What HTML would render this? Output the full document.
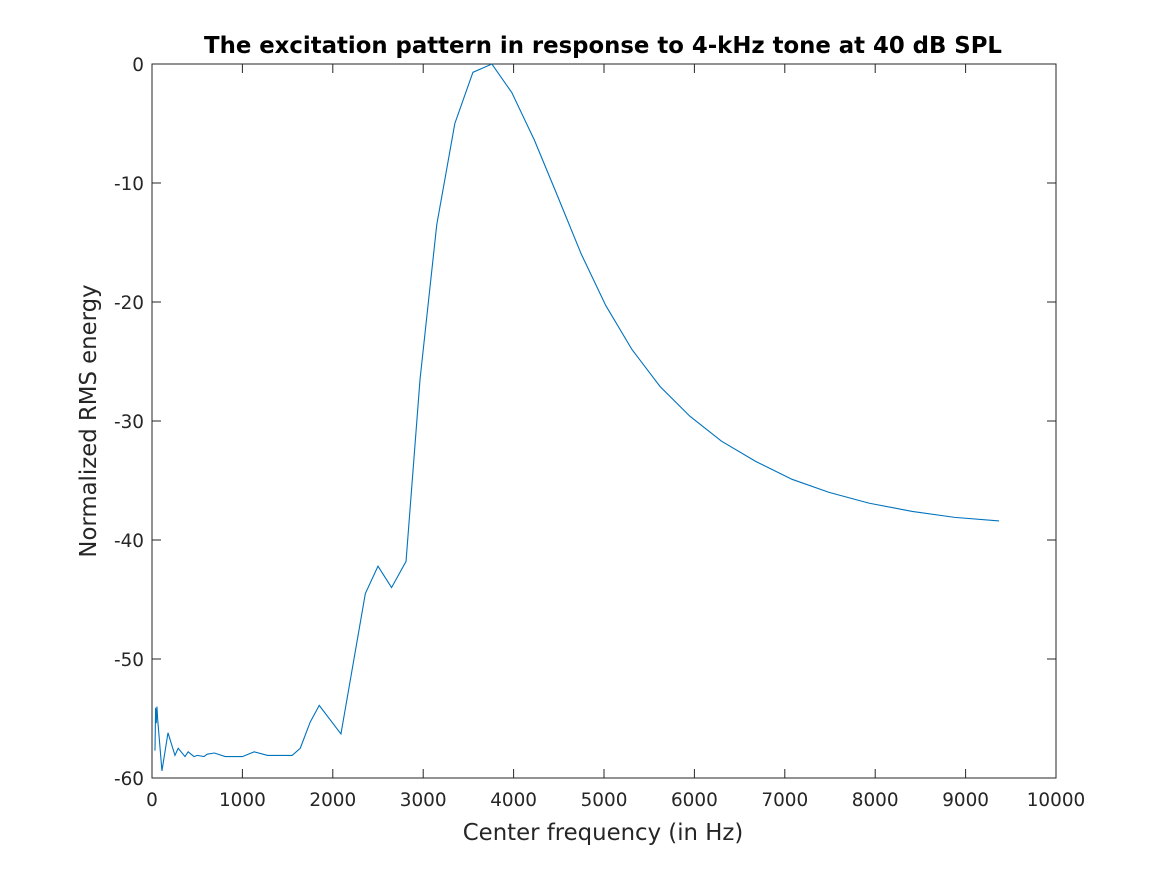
<!DOCTYPE html>
<html><head><meta charset="utf-8"><style>
body{margin:0;background:#fff;}
svg text{font-family:"DejaVu Sans","Liberation Sans",sans-serif;fill:#262626;}
</style></head><body>
<svg id="chart" width="1167" height="875">
<rect width="1167" height="875" fill="#fff"/>
<g id="axes"></g>
<polyline id="series" fill="none" stroke="#0072bd" stroke-width="1.1"/>
<text x="603" y="53" text-anchor="middle" font-size="22.8" font-weight="bold" style="fill:#000">The excitation pattern in response to 4-kHz tone at 40 dB SPL</text>
<text x="603" y="840" text-anchor="middle" font-size="22.8">Center frequency (in Hz)</text>
<text transform="translate(96,421) rotate(-90)" text-anchor="middle" font-size="22.8">Normalized RMS energy</text>
</svg>
<script>
const freqs=[33,40,47,55,62,110,177,254,290,365,400,465,500,575,610,690,810,1000,1130,1280,1550,1640,1750,1850,2090,2360,2500,2650,2810,2965,3150,3350,3550,3760,3980,4230,4470,4750,5020,5310,5620,5950,6300,6680,7080,7490,7930,8410,8880,9370];
const levels=[-57.7,-54.1,-55.4,-54,-55,-59.4,-56.2,-58.1,-57.5,-58.2,-57.8,-58.2,-58.1,-58.2,-58,-57.9,-58.2,-58.2,-57.8,-58.1,-58.1,-57.5,-55.3,-53.9,-56.3,-44.5,-42.2,-44,-41.8,-26.5,-13.5,-5,-0.7,0,-2.4,-6.4,-10.8,-16,-20.3,-24,-27.1,-29.6,-31.7,-33.4,-34.9,-36,-36.9,-37.6,-38.1,-38.4];
const xTicks=[0,1000,2000,3000,4000,5000,6000,7000,8000,9000,10000];
const yTicks=[0,-10,-20,-30,-40,-50,-60];
const L=152,R=1056,T=64,B=778;
const sx=v=>L+(v-0)/(10000)*(R-L);
const sy=v=>T+(0-v)/60*(B-T);
const ns="http://www.w3.org/2000/svg";
const ax=document.getElementById('axes');
function mk(t,a){const e=document.createElementNS(ns,t);for(const k in a)e.setAttribute(k,a[k]);ax.appendChild(e);return e;}
const box=mk('rect',{x:L,y:T,width:R-L,height:B-T,fill:'none',stroke:'#262626','stroke-width':1});


xTicks.forEach(v=>{const x=sx(v);
mk('line',{x1:x,y1:B,x2:x,y2:B-9,stroke:'#262626'});
mk('line',{x1:x,y1:T,x2:x,y2:T+9,stroke:'#262626'});
const t=mk('text',{x:x,y:B+28,'text-anchor':'middle','font-size':18.4});t.textContent=v;

});
yTicks.forEach(v=>{const y=sy(v);
mk('line',{x1:L,y1:y,x2:L+9,y2:y,stroke:'#262626'});
mk('line',{x1:R,y1:y,x2:R-9,y2:y,stroke:'#262626'});
const t=mk('text',{x:L-8,y:y+7,'text-anchor':'end','font-size':18.4});t.textContent=v;

});
document.getElementById('series').setAttribute('points',freqs.map((f,i)=>sx(f)+','+sy(levels[i])).join(' '));
</script>
</body></html>
